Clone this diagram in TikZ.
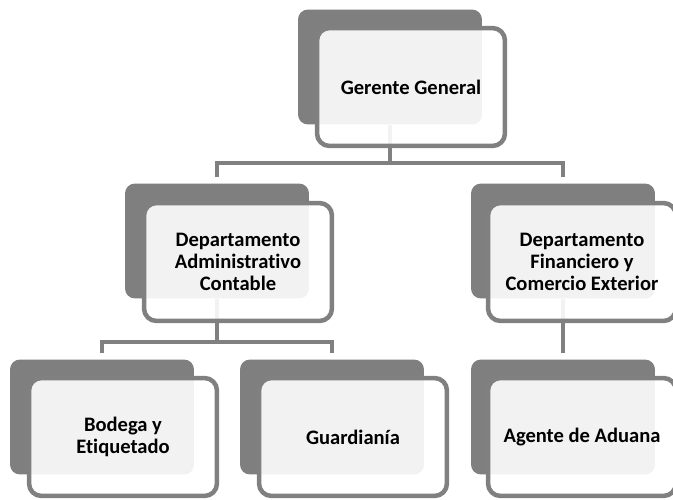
\documentclass[tikz,border=0pt]{standalone}
\usepackage{fontspec}
\setmainfont{Carlito}[Ligatures=NoCommon]
\pgfdeclarelayer{back}
\pgfsetlayers{back,main}
\definecolor{shadegray}{HTML}{7F7F7F}
\definecolor{linegray}{HTML}{808080}
\tikzset{
  shadowbox/.style={fill=shadegray, rounded corners=0.2cm, minimum width=3.68cm, minimum height=2.3cm, inner sep=0pt},
  frontbox/.style={draw=linegray, line width=0.09cm, fill=white, fill opacity=0.9, text opacity=1, rounded corners=0.25cm, minimum width=3.76cm, minimum height=2.36cm, align=center, font=\bfseries\fontsize{11.7}{12.4}\selectfont},
  link/.style={draw=linegray, line width=0.08cm}
}

\begin{document}
\begin{tikzpicture}[x=0.02cm, y=-0.02cm]
\useasboundingbox (0,0) rectangle (673,500);
% level 1
\node[shadowbox] (gerS) at (390,67) {};
\node[frontbox] (ger) at (411,87) {Gerente General};

% level 2
\node[shadowbox] (dacS) at (217,241) {};
\node[frontbox] (dac) at (238,262) {Departamento\\Administrativo\\Contable};
\node[shadowbox] (dfcS) at (563,241) {};
\node[frontbox] (dfc) at (582,262) {Departamento\\Financiero y\\Comercio Exterior};

% level 3
\node[shadowbox] (bodS) at (102,417) {};
\node[frontbox] (bod) at (123,437) {Bodega y\\Etiquetado};
\node[shadowbox] (guaS) at (332,417) {};
\node[frontbox] (gua) at (353,437) {Guardianía};
\node[shadowbox] (ageS) at (563,417) {};
\node[frontbox] (age) at (582,437) {Agente de Aduana};

\begin{pgfonlayer}{back}
\fill[white] (0,0) rectangle (673,500);
\coordinate (busA) at (390,163);
\coordinate (busB) at (217,342);
\draw[link] (gerS.south) -- (busA);
\draw[link, shorten >=0.12cm] (busA) -| (dacS.north);
\draw[link, shorten >=0.12cm] (busA) -| (dfcS.north);
\draw[link] (dacS.south) -- (busB);
\draw[link, shorten >=0.12cm] (busB) -| (bodS.north);
\draw[link, shorten >=0.12cm] (busB) -| (guaS.north);
\draw[link, shorten >=0.12cm] (dfcS.south) -- (ageS.north);
\end{pgfonlayer}
\end{tikzpicture}
\end{document}
